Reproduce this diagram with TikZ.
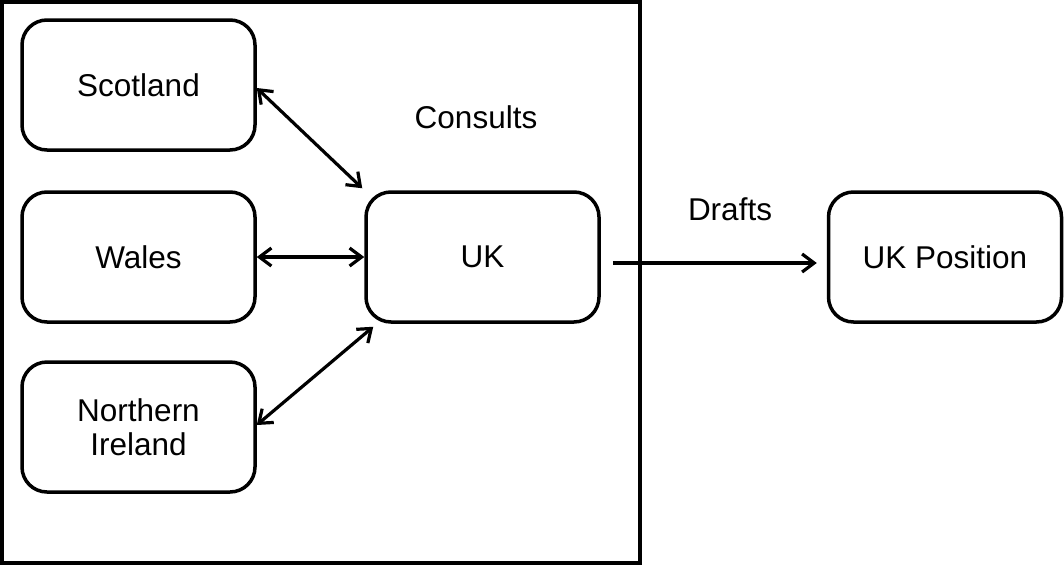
\documentclass[tikz,border=0pt]{standalone}
\usepackage{fontspec}
\setmainfont{Liberation Sans}
\usetikzlibrary{arrows.meta}
\begin{document}
\begin{tikzpicture}[x=1pt,y=-1pt,
  every node/.style={font=\fontsize{31.5}{34}\selectfont},
  region/.style={draw,line width=3.5pt,rounded corners=25pt,minimum width=233pt,minimum height=130pt,align=center,inner sep=0pt},
  link/.style={line width=3.2pt,{Straight Barb[length=12pt,width=18pt]}-{Straight Barb[length=12pt,width=18pt]}},
  flow/.style={line width=3.2pt,-{Straight Barb[length=12pt,width=18pt]}}]
\useasboundingbox (0,0) rectangle (1064,565);
% enclosing frame
\draw[line width=3.5pt] (2,2) rectangle (640,563);
% boxes
\node[region] (scot) at (138.5,85) {Scotland};
\node[region] (wales) at (138.5,257) {Wales};
\node[region] (ni) at (138.5,427) {Northern\\Ireland};
\node[region] (uk) at (482.5,257) {UK};
\node[region] (ukpos) at (945,257) {UK Position};
% labels
\node (consults) at (476,117) {Consults};
\node (drafts) at (730,209) {Drafts};
% connectors
\draw[link] ([yshift=-3pt]scot.east) -- ([shift={(-2pt,2pt)}]uk.north west);
\draw[link] (wales.east) -- (uk.west);
\draw[link] ([yshift=2pt]ni.east) -- ([shift={(9pt,-3pt)}]uk.south west);
\draw[flow] ([shift={(12pt,-6pt)}]uk.east) -- ([shift={(-10pt,-6pt)}]ukpos.west);
\end{tikzpicture}
\end{document}
